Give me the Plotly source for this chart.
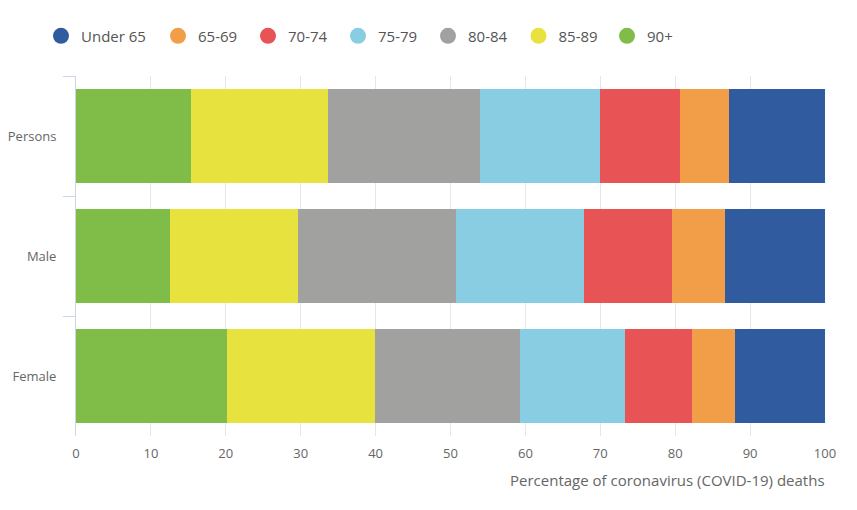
import plotly.graph_objects as go

categories = ["Persons", "Male", "Female"]
age_groups = ["90+", "85-89", "80-84", "75-79", "70-74", "65-69", "Under 65"]
values = {
    "90+":      [15.4, 12.5, 20.2],
    "85-89":    [18.2, 17.2, 19.7],
    "80-84":    [20.4, 21.0, 19.4],
    "75-79":    [16.0, 17.1, 14.0],
    "70-74":    [10.6, 11.8, 8.9],
    "65-69":    [6.6, 7.1, 5.8],
    "Under 65": [12.8, 13.3, 12.0],
}
colors = {
    "Under 65": "#305b9f",
    "65-69": "#f29d48",
    "70-74": "#e85356",
    "75-79": "#88cde2",
    "80-84": "#a1a19f",
    "85-89": "#e8e23e",
    "90+": "#80bd48",
}
legend_order = ["Under 65", "65-69", "70-74", "75-79", "80-84", "85-89", "90+"]
x_ticks = [0, 10, 20, 30, 40, 50, 60, 70, 80, 90, 100]
x_title = "Percentage of coronavirus (COVID-19) deaths"

# layout: left edge (px, figure coords) of each legend entry
W, H = 857, 510
legend_left_px = [33, 150, 240, 330, 420, 510.5, 599]

fig = go.Figure()
for g in age_groups:
    fig.add_trace(go.Bar(
        x=values[g], y=categories, orientation="h", name=g,
        marker=dict(color=colors[g], line=dict(width=0)),
        showlegend=False,
    ))

legend_layout = {}
for i, g in enumerate(legend_order):
    key = "legend" if i == 0 else f"legend{i + 1}"
    fig.add_trace(go.Scatter(
        x=[None], y=[None], mode="markers", name=g,
        marker=dict(color=colors[g], size=16, symbol="circle"),
        showlegend=True, legend=key,
    ))
    legend_layout[key] = dict(
        orientation="h", x=legend_left_px[i] / W, xref="container", xanchor="left",
        y=1.111, yref="paper", yanchor="middle",
        font=dict(size=15, color="#555555"),
        itemsizing="trace", bgcolor="rgba(0,0,0,0)",
    )

fig.update_layout(
    width=W, height=H,
    barmode="stack", bargap=0.21,
    plot_bgcolor="white", paper_bgcolor="white",
    margin=dict(l=68, r=40, t=68, b=82, autoexpand=False),
    font=dict(family="Open Sans", size=13, color="#666666"),
    xaxis=dict(
        range=[0, 100], tickvals=x_ticks, showgrid=True, gridcolor="#e6e6e6",
        gridwidth=1, zeroline=False, showline=False, ticks="",
        ticklabelstandoff=8,
        tickfont=dict(size=13, color="#666666"), fixedrange=True,
    ),
    yaxis=dict(
        type="category", categoryorder="array", categoryarray=categories,
        autorange="reversed", showline=True, linecolor="#ccd6eb", linewidth=1,
        ticks="outside", tickson="boundaries", ticklen=12, tickcolor="#ccd6eb",
        ticklabelstandoff=16,
        showgrid=False, tickfont=dict(size=13, color="#666666"),
    ),
    annotations=[dict(
        text=x_title, xref="paper", yref="paper", x=1.003, y=-0.088,
        xanchor="right", yanchor="top", showarrow=False,
        font=dict(size=15, color="#666666"),
    )],
    **legend_layout,
)

fig.write_html("out.html")
